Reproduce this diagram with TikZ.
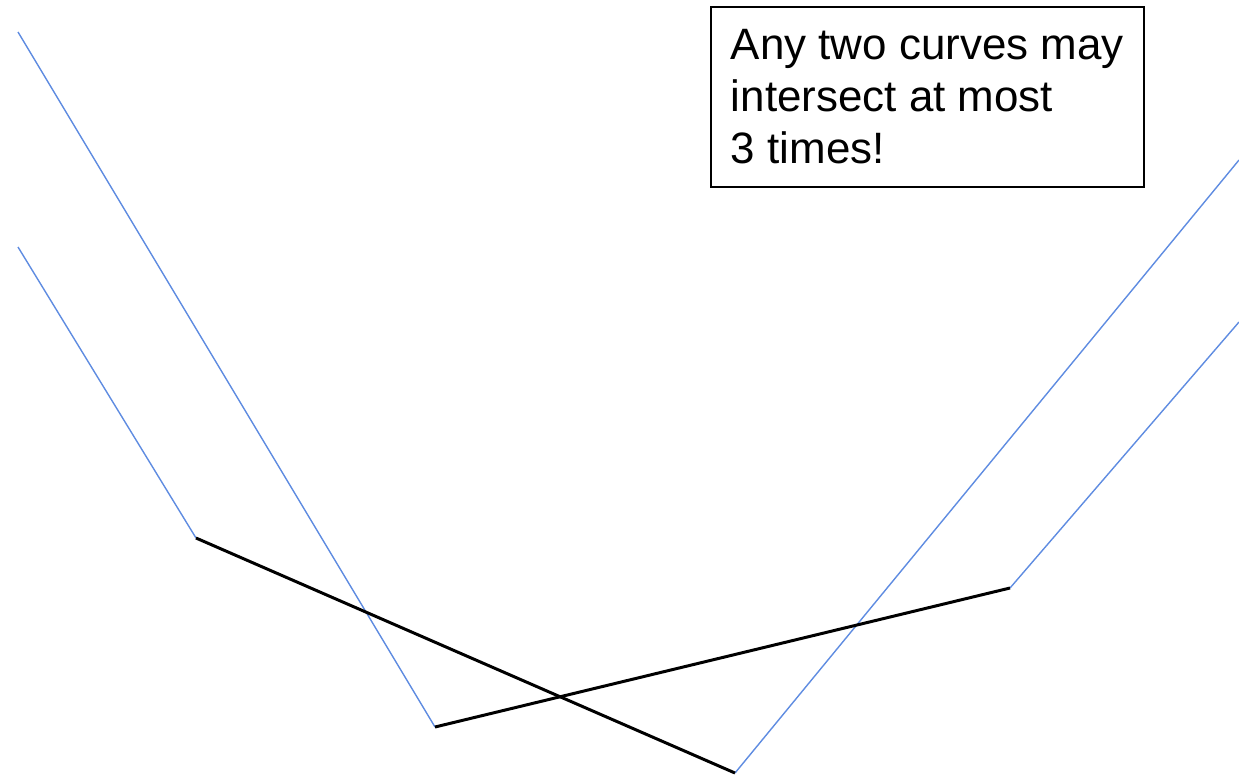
\documentclass[tikz,border=0pt]{standalone}
\usepackage{fontspec}
\setsansfont{Liberation Sans}
\definecolor{curveblue}{RGB}{95,140,225}
\begin{document}
\begin{tikzpicture}[x=0.02cm, y=-0.02cm, font=\sffamily]
  \useasboundingbox (0,0) rectangle (1239,781);
  % Points
  \coordinate (a0) at (18,32);
  \coordinate (a1) at (435,727);
  \coordinate (a2) at (1010,588);
  \coordinate (a3) at (1239,322);
  \coordinate (b0) at (18,247);
  \coordinate (b1) at (196,538);
  \coordinate (b2) at (735,773);
  \coordinate (b3) at (1239,160);

  % Note
  \node[draw, line width=1pt, rectangle, align=left, anchor=north west, inner xsep=9pt, inner ysep=5pt, minimum width=433*0.02cm, minimum height=180*0.02cm, font=\fontsize{25}{29.5}\sffamily] (note) at (710,6) {Any two curves may\\intersect at most\\3 times!};

  % Curves
  \draw[curveblue, line width=0.8pt] (a0) -- (a1);
  \draw[curveblue, line width=0.8pt] (a2) -- (a3);
  \draw[curveblue, line width=0.8pt] (b0) -- (b1);
  \draw[curveblue, line width=0.8pt] (b2) -- (b3);
  \draw[black, line width=1.7pt] (a1) -- (a2);
  \draw[black, line width=1.7pt] (b1) -- (b2);
\end{tikzpicture}
\end{document}
